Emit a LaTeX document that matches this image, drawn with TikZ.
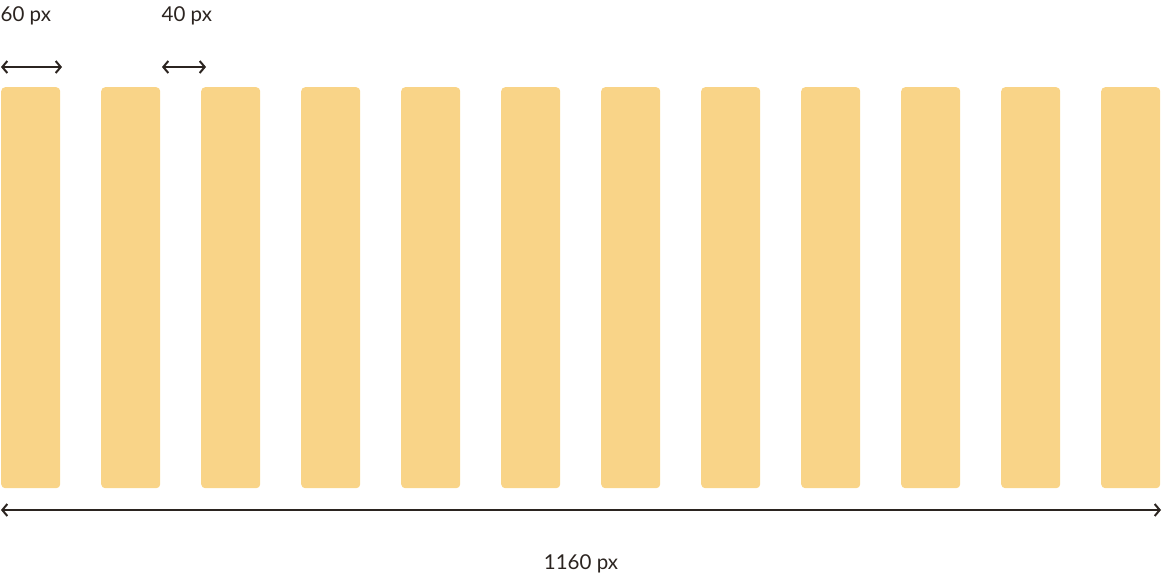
\documentclass[tikz,border=0pt]{standalone}
\usepackage{fontspec}
\setmainfont{Lato}
\usetikzlibrary{arrows.meta,positioning}
\definecolor{colfill}{HTML}{F9D488}
\definecolor{dimline}{HTML}{2B2420}

\begin{document}
\begin{tikzpicture}[x=1pt,y=-1pt,
    column/.style={rectangle,rounded corners=4pt,fill=colfill,draw=none,
                   minimum width=59pt,minimum height=401pt,inner sep=0pt,
                   anchor=north west},
    dim/.style={{Straight Barb[length=5pt,width=12pt]}-{Straight Barb[length=5pt,width=12pt]},
                line width=2pt,dimline},
    dimlabel/.style={font=\fontsize{20.5}{24}\selectfont,text=dimline,inner sep=0pt}
  ]
    \useasboundingbox (0,0) rectangle (1162,576);

    % twelve columns, 60 wide, 40 apart
    \foreach \i in {1,...,12} {
      \node[column] (col\i) at ({1+(\i-1)*100},87) {};
    }

    % end points of the measures
    \coordinate (colL) at (1,67);
    \coordinate (colR) at (62,67);
    \coordinate (gapL) at (162,67);
    \coordinate (gapR) at (206,67);
    \coordinate (allL) at (1,510);
    \coordinate (allR) at (1161,510);

    \draw[dim] (colL) -- (colR);
    \draw[dim] (gapL) -- (gapR);
    \draw[dim] (allL) -- (allR);

    \node[dimlabel,anchor=base west] (colwidth) at (0.5,21) {60 px};
    \node[dimlabel,anchor=base west] (gapwidth) at (161.5,21) {40 px};
    \node[dimlabel,anchor=base] (totalwidth) at (581,569) {1160 px};
  \end{tikzpicture}
\end{document}
